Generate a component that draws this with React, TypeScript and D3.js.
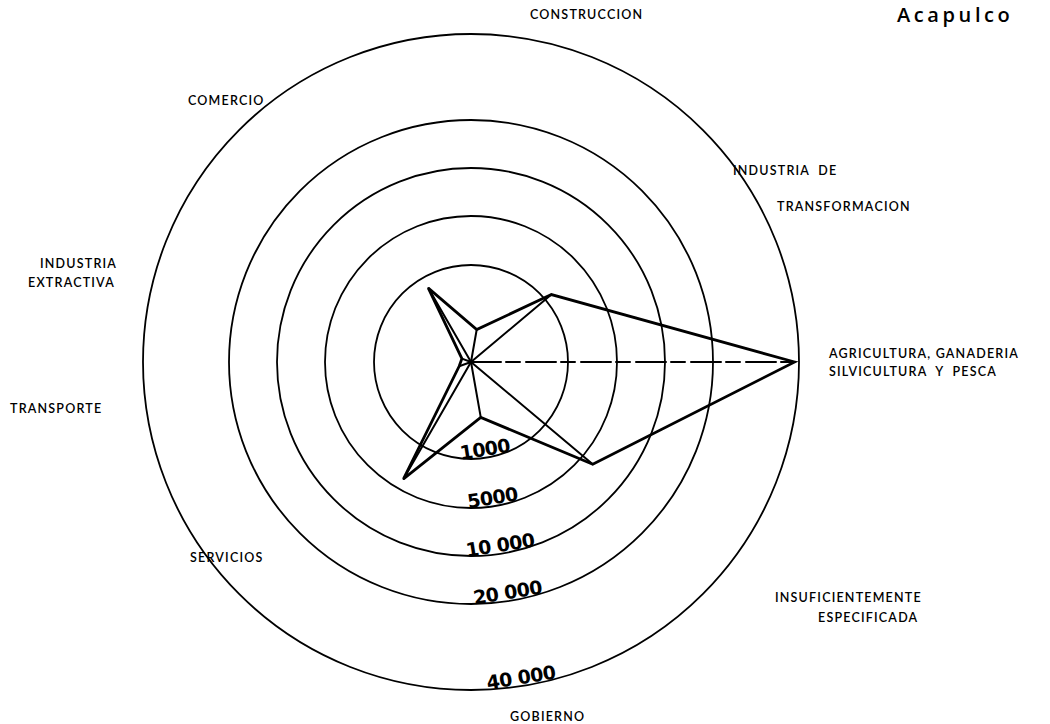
import React from "react";
import * as d3 from "d3";

// ---- data ----
const categories = [
  "AGRICULTURA, GANADERIA SILVICULTURA Y PESCA",
  "INDUSTRIA DE TRANSFORMACION",
  "CONSTRUCCION",
  "COMERCIO",
  "INDUSTRIA EXTRACTIVA",
  "TRANSPORTE",
  "SERVICIOS",
  "GOBIERNO",
  "INSUFICIENTEMENTE ESPECIFICADA",
];
const values = [39000, 1650, 340, 880, 100, 130, 4100, 580, 6350];
const tickValues = [1000, 5000, 10000, 20000, 40000];
const tickLabels = ["1000", "5000", "10 000", "20 000", "40 000"];
const title = "Acapulco";

// ---- layout ----
const W = 1050;
const H = 724;
const CX = 471;
const CY = 362;
const RING_RADII = [0, 97, 146, 194, 242, 328];

// label line breaks and anchor positions (layout only)
const labelLayout: { lines: string[]; xs: number[]; ys: number[] }[] = [
  { lines: ["AGRICULTURA, GANADERIA", "SILVICULTURA  Y  PESCA"], xs: [829, 829], ys: [358, 376] },
  { lines: ["INDUSTRIA  DE", "TRANSFORMACION"], xs: [733, 777], ys: [175, 211] },
  { lines: ["CONSTRUCCION"], xs: [530], ys: [19] },
  { lines: ["COMERCIO"], xs: [188], ys: [105] },
  { lines: ["INDUSTRIA", "EXTRACTIVA"], xs: [40, 28], ys: [268, 287] },
  { lines: ["TRANSPORTE"], xs: [10], ys: [413] },
  { lines: ["SERVICIOS"], xs: [190], ys: [562] },
  { lines: ["GOBIERNO"], xs: [510], ys: [721] },
  { lines: ["INSUFICIENTEMENTE", "ESPECIFICADA"], xs: [775, 818], ys: [602, 622] },
];

export default function App() {
  const r = d3
    .scaleLinear()
    .domain([0, 1000, 5000, 10000, 20000, 40000])
    .range(RING_RADII);

  const step = (2 * Math.PI) / categories.length;
  const ang = (i: number) => i * step;
  const radialAng = (i: number) => Math.PI / 2 - ang(i);

  const polygon = d3
    .lineRadial<number>()
    .angle((_, i) => radialAng(i))
    .radius((d) => r(d))
    .curve(d3.curveLinearClosed)(values) as string;

  const pts = values.map((v, i) => ({
    x: CX + r(v) * Math.cos(ang(i)),
    y: CY - r(v) * Math.sin(ang(i)),
  }));

  const theta = (9 * Math.PI) / 180;
  const labelFont = "Lato, 'Open Sans', sans-serif";

  return (
    <svg
      width={W}
      height={H}
      viewBox={`0 0 ${W} ${H}`}
      style={{ position: "absolute", left: 0, top: 0, background: "#fff" }}
    >
      <rect x={0} y={0} width={W} height={H} fill="#fff" />
      {tickValues.map((t) => (
        <circle key={t} cx={CX} cy={CY} r={r(t)} fill="none" stroke="#000" strokeWidth={1.8} />
      ))}
      <g stroke="#000" strokeWidth={2} strokeLinecap="round">
        {pts.map((p, i) => (
          <line
            key={i}
            x1={CX}
            y1={CY}
            x2={p.x}
            y2={p.y}
            strokeDasharray={i === 0 ? "30 5 14 6" : undefined}
          />
        ))}
      </g>
      <path
        d={polygon}
        transform={`translate(${CX},${CY})`}
        fill="none"
        stroke="#000"
        strokeWidth={2.8}
        strokeLinejoin="miter"
      />
      {tickValues.map((t, k) => {
        const rr = r(t) - 2;
        const x = CX + rr * Math.sin(theta);
        const y = CY + rr * Math.cos(theta);
        return (
          <text
            key={t}
            x={x}
            y={y}
            transform={`rotate(${-9} ${x} ${y})`}
            textAnchor="middle"
            fontFamily="'DejaVu Sans', sans-serif"
            fontWeight="bold"
            fontSize={19}
            letterSpacing={-0.6}
            fill="#000"
          >
            {tickLabels[k]}
          </text>
        );
      })}
      {labelLayout.map((L, i) =>
        L.lines.map((line, j) => (
          <text
            key={`${i}-${j}`}
            x={L.xs[j]}
            y={L.ys[j]}
            fontFamily={labelFont}
            fontSize={12.5}
            fontWeight={600}
            letterSpacing={1.2}
            fill="#000"
            style={{ whiteSpace: "pre" }}
          >
            {line}
          </text>
        ))
      )}
      <text
        x={897}
        y={22}
        fontFamily="'Open Sans', Lato, sans-serif"
        fontWeight={600}
        fontSize={20}
        letterSpacing={3.6}
        fill="#000"
      >
        {title}
      </text>
    </svg>
  );
}
